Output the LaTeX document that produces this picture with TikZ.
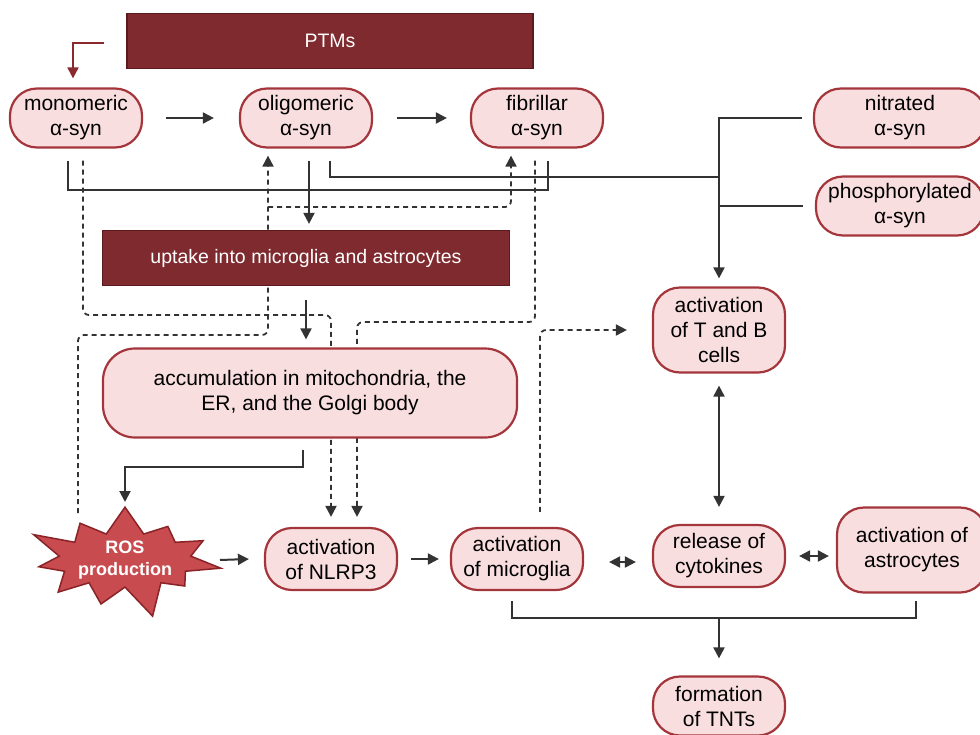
\documentclass[tikz,border=0pt]{standalone}
\usepackage{fontspec}
\setmainfont{Liberation Sans}
\usetikzlibrary{shapes.symbols, arrows.meta}
\definecolor{pillfill}{HTML}{F9DEDF}
\definecolor{pillline}{HTML}{A3353B}
\definecolor{bannerfill}{HTML}{7E2A2E}
\definecolor{bannerline}{HTML}{5C1A1E}
\definecolor{rosfill}{HTML}{C84B4F}
\definecolor{rosline}{HTML}{8A2327}
\definecolor{arrowgrey}{HTML}{333333}
\definecolor{ptmred}{HTML}{8B2A2E}
\pgfdeclarelayer{background}
\pgfsetlayers{background,main}
\tikzstyle{pill} = [rectangle, draw=pillline, fill=pillfill, line width=2.2pt,
    rounded corners=27pt, align=center, minimum width=132pt, minimum height=59pt,
    inner sep=1pt, font=\fontsize{21}{25}\selectfont]
\tikzstyle{banner} = [rectangle, draw=bannerline, fill=bannerfill, line width=1.2pt,
    text=white, minimum height=55pt, font=\fontsize{19.5}{23}\selectfont]
\tikzstyle{burst} = [starburst, starburst points=11, starburst point height=36pt,
    draw=rosline, fill=rosfill, line width=1.5pt, minimum width=198pt,
    minimum height=98pt, align=center, text=white, inner sep=0pt,
    font=\bfseries\fontsize{18}{22}\selectfont]
\tikzstyle{line} = [draw=arrowgrey, line width=2pt, -{Triangle[length=11pt,width=11pt]}]
\tikzstyle{link} = [draw=arrowgrey, line width=2pt]
\tikzstyle{twoway} = [draw=arrowgrey, line width=2pt,
    {Triangle[length=11pt,width=11pt]}-{Triangle[length=11pt,width=11pt]}]
\tikzstyle{hint} = [draw=arrowgrey, line width=1.8pt, dash pattern=on 5pt off 4pt,
    rounded corners=6pt, -{Triangle[length=11pt,width=11pt]}]
\tikzstyle{redline} = [draw=ptmred, line width=2pt, -{Triangle[length=11pt,width=11pt]}]
\begin{document}
\begin{tikzpicture}[x=1pt, y=1pt, node distance=230pt]
    \useasboundingbox (0,0) rectangle (980,-734);
    % Place nodes
    \node [banner, minimum width=406pt] (ptms) at (330,-41) {PTMs};
    \node [pill] (mono) at (76,-118) {monomeric\\α-syn};
    \node [pill, right of=mono] (oligo) {oligomeric\\α-syn};
    \node [pill, right of=oligo, node distance=231pt] (fib) {fibrillar\\α-syn};
    \node [pill, minimum width=172pt] (nitr) at (900,-118) {nitrated\\α-syn};
    \node [pill, minimum width=168pt, below of=nitr, node distance=88pt] (phos) {phosphorylated\\α-syn};
    \node [banner, minimum width=407pt, below of=oligo, node distance=140pt] (uptake) {uptake into microglia and astrocytes};
    \node [pill, minimum width=414pt, minimum height=89pt, rounded corners=32pt] (accum) at (310,-393) {accumulation in mitochondria, the\\ER, and the Golgi body};
    \node [pill, minimum height=85pt] (tb) at (719,-330) {activation\\of T and B\\cells};
    \node [burst] (ros) at (125,-560) {ROS\\production};
    \node [pill, minimum height=62pt] (nlrp) at (331,-559) {activation\\of NLRP3};
    \node [pill, minimum height=62pt, right of=nlrp, node distance=186pt] (micro) {activation\\of microglia};
    \node [pill, minimum height=62pt] (cyto) at (719,-556) {release of\\cytokines};
    \node [pill, minimum width=150pt, minimum height=85pt] (astro) at (912,-550) {activation of\\astrocytes};
    \node [pill, below of=cyto, node distance=150pt] (tnt) {formation\\of TNTs};
    % Bends
    \coordinate (kA) at (200,-315);
    \coordinate (kB) at (170,-335);
    \coordinate (kB2) at (268,-207);
    \coordinate (kC) at (450,-322);
    \coordinate (kD) at (200,-467);
    \coordinate (kE) at (719,-618);
    \coordinate (kF) at (300,-190);
    \coordinate (jn) at (719,-177);
    % Draw edges
    \begin{pgfonlayer}{background}
    \path [redline] ([xshift=-22pt,yshift=-2pt]ptms.west) -| ([xshift=-3pt,yshift=9pt]mono.north);
    \path [line, shorten <=23pt, shorten >=25pt] (mono) -- (oligo);
    \path [line, shorten <=24pt, shorten >=23pt] (oligo) -- (fib);
    \path [link] ([xshift=-8pt,yshift=-12pt]mono.south) |- (kF) -| ([xshift=11pt,yshift=-12pt]fib.south);
    \path [link] ([xshift=24pt,yshift=-12pt]oligo.south) |- (jn);
    \path [line] ([xshift=-11pt]nitr.west) -| ([yshift=8pt]tb.north);
    \path [link] ([xshift=-12pt]phos.west) -- (phos.west -| tb.north);
    \path [line] ([xshift=3pt,yshift=-12pt]oligo.south) -- ([xshift=3pt,yshift=6pt]uptake.north);
    \path [line] ([yshift=-14pt]uptake.south) -- ([xshift=-4pt,yshift=8pt]accum.north);
    \path [line] ([xshift=-7pt,yshift=-11pt]accum.south) |- (kD) -| ([yshift=58pt]ros.center);
    \path [line] ([xshift=95pt]ros.center) -- ([xshift=-15pt]nlrp.west);
    \path [line, shorten <=13pt, shorten >=11pt] (nlrp) -- (micro);
    \path [twoway] ([xshift=25pt,yshift=-3pt]micro.east) -- ([xshift=-16pt,yshift=-6pt]cyto.west);
    \path [twoway] ([xshift=13pt]cyto.east) -- ([xshift=-7pt,yshift=-6pt]astro.west);
    \path [twoway] ([yshift=-12pt]tb.south) -- ([yshift=17pt]cyto.north);
    \path [link] ([xshift=-5pt,yshift=-10pt]micro.south) |- (kE) -| ([xshift=4pt,yshift=-7pt]astro.south);
    \path [line] (kE) -- ([yshift=17pt]tnt.north);
    \path [hint] ([xshift=7pt,yshift=-12pt]mono.south) |- (kA) -| ([yshift=10pt]nlrp.north);
    \path [hint] ([xshift=-47pt,yshift=47pt]ros.center) |- (kB) -| ([xshift=-38pt,yshift=-7pt]oligo.south);
    \path [hint] (kB2) -| ([xshift=-26pt,yshift=-7pt]fib.south);
    \path [hint] ([xshift=-2pt,yshift=-12pt]fib.south) |- (kC) -| ([xshift=26pt,yshift=10pt]nlrp.north);
    \path [hint] ([xshift=23pt,yshift=15pt]micro.north) |- ([xshift=-25pt]tb.west);
    \end{pgfonlayer}
\end{tikzpicture}
\end{document}
